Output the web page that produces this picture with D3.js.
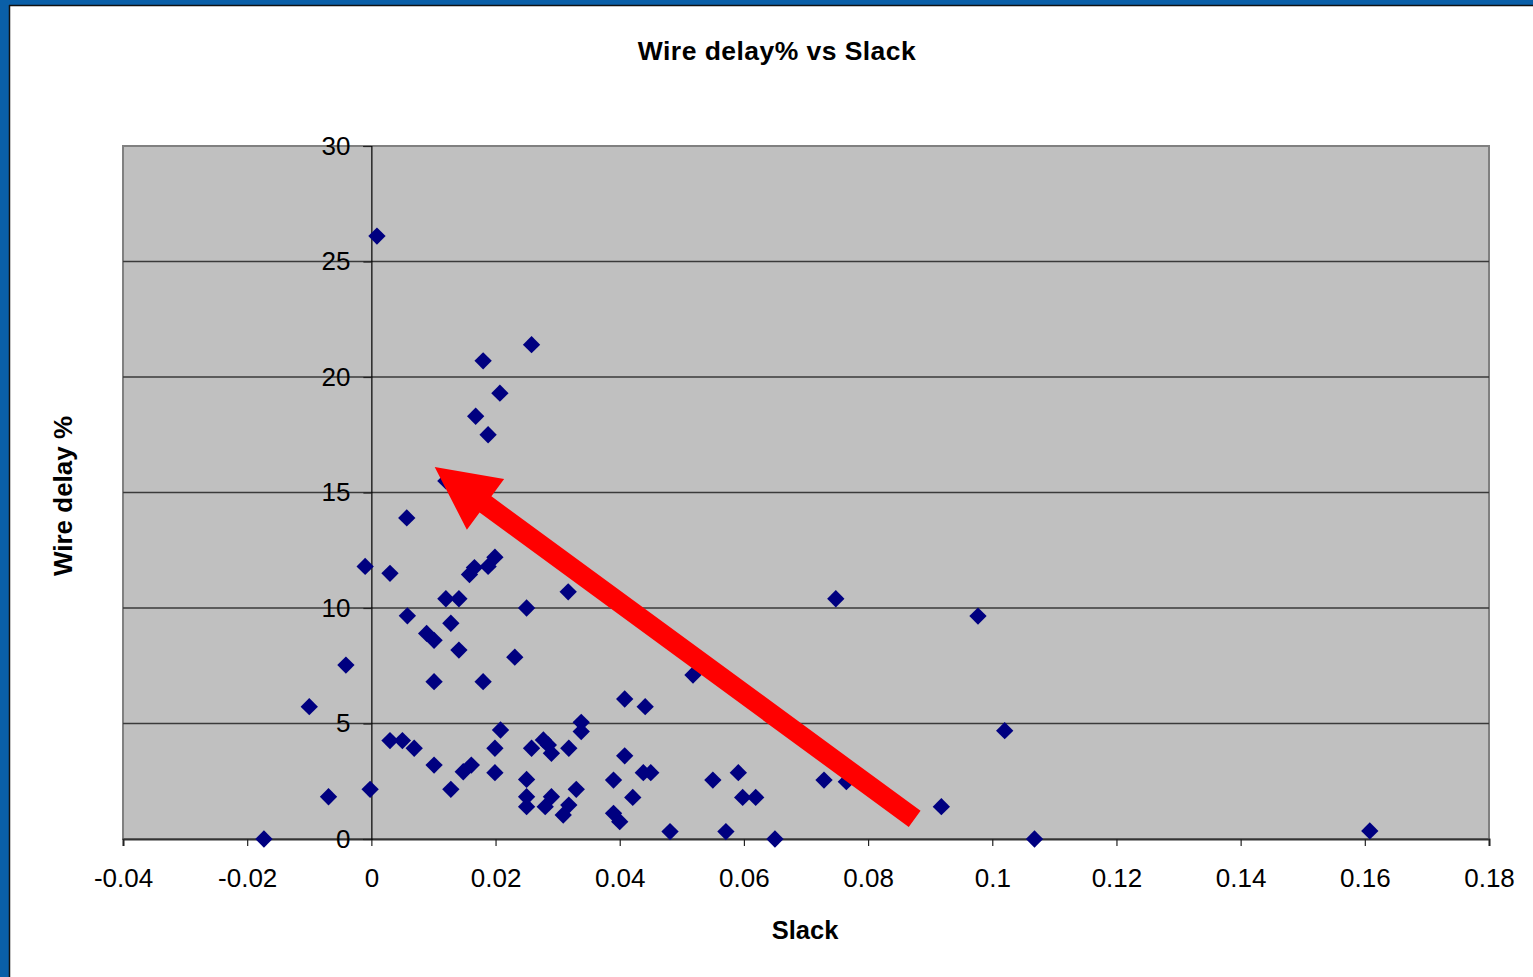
<!DOCTYPE html>
<html>
<head>
<meta charset="utf-8">
<script src="https://cdn.jsdelivr.net/npm/d3@7"></script>
<style>
  html, body { margin: 0; padding: 0; background: #ffffff; }
  svg { display: block; font-family: "Liberation Sans", Arial, sans-serif; }
</style>
</head>
<body>
<svg id="chart" width="1533" height="977"></svg>
<script>
// ---- data ----
const slack = [
  -0.0173, 0.0009, 0.0258, 0.018, 0.0207, 0.0168, 0.0188, 0.012, 0.0057, -0.001,
  0.003, 0.0199, 0.0188, 0.0166, 0.0158, 0.0317, 0.025, 0.012, 0.0141, 0.0058,
  0.0128, 0.0089, 0.0101, 0.0141, 0.0231, -0.0041, 0.0101, 0.018, -0.01, 0.0338,
  0.0338, 0.0208, 0.003, 0.005, 0.0069, 0.0199, 0.0258, 0.0277, 0.0285, 0.029,
  0.0318, 0.0101, 0.0161, 0.0148, 0.0199, 0.025, 0.0128, -0.0002, 0.033, -0.0069,
  0.025, 0.029, 0.025, 0.028, 0.0318, 0.0309, 0.0518, 0.0408, 0.0441, 0.0408,
  0.0438, 0.045, 0.039, 0.0421, 0.039, 0.040, 0.0481, 0.0571, 0.065, 0.055,
  0.0591, 0.0598, 0.0619, 0.0729, 0.0765, 0.0918, 0.102, 0.0977, 0.1068, 0.0748,
  0.1608
];
const wireDelay = [
  0, 26.1, 21.4, 20.7, 19.3, 18.3, 17.5, 15.5, 13.9, 11.8,
  11.5, 12.2, 11.8, 11.75, 11.45, 10.7, 10.0, 10.4, 10.4, 9.66,
  9.34, 8.9, 8.6, 8.18, 7.87, 7.53, 6.81, 6.81, 5.73, 5.05,
  4.65, 4.72, 4.26, 4.26, 3.93, 3.93, 3.93, 4.29, 4.07, 3.71,
  3.93, 3.2, 3.2, 2.91, 2.87, 2.58, 2.15, 2.15, 2.15, 1.83,
  1.83, 1.83, 1.4, 1.4, 1.47, 1.04, 7.1, 6.06, 5.73, 3.6,
  2.87, 2.87, 2.55, 1.8, 1.11, 0.75, 0.32, 0.32, 0, 2.55,
  2.87, 1.8, 1.8, 2.55, 2.48, 1.4, 4.69, 9.65, 0, 10.4,
  0.35
];
const xTickValues = [-0.04, -0.02, 0, 0.02, 0.04, 0.06, 0.08, 0.1, 0.12, 0.14, 0.16, 0.18];
const xTickLabels = ["-0.04", "-0.02", "0", "0.02", "0.04", "0.06", "0.08", "0.1", "0.12", "0.14", "0.16", "0.18"];
const yTickValues = [0, 5, 10, 15, 20, 25, 30];
const yTickLabels = ["0", "5", "10", "15", "20", "25", "30"];
const titleText = "Wire delay% vs Slack";
const xTitle = "Slack";
const yTitle = "Wire delay %";
// annotation arrow (data coordinates): from tail to tip
const arrowFrom = [0.0875, 0.87];
const arrowTo = [0.0102, 16.1];

// ---- layout ----
const W = 1533, H = 977;
const plot = { left: 123, right: 1489, top: 146, bottom: 839 };
const svg = d3.select("#chart");

const x = d3.scaleLinear().domain([-0.04, 0.18]).range([plot.left, plot.right]);
const y = d3.scaleLinear().domain([0, 30]).range([plot.bottom, plot.top]);

// slide frame (blue top/left band)
svg.append("rect").attr("x", 0).attr("y", 0).attr("width", W).attr("height", H).attr("fill", "#ffffff");
svg.append("rect").attr("x", 0).attr("y", 0).attr("width", W).attr("height", 5).attr("fill", "#0a5fa8");
svg.append("rect").attr("x", 0).attr("y", 0).attr("width", 9).attr("height", H).attr("fill", "#0a5fa8");
svg.append("line").attr("x1", 9).attr("x2", W).attr("y1", 5.5).attr("y2", 5.5).attr("stroke", "#111").attr("stroke-width", 1.5);
svg.append("line").attr("x1", 9.5).attr("x2", 9.5).attr("y1", 5).attr("y2", H).attr("stroke", "#111").attr("stroke-width", 1.5);

// plot area
svg.append("rect")
  .attr("x", plot.left).attr("y", plot.top)
  .attr("width", plot.right - plot.left).attr("height", plot.bottom - plot.top)
  .attr("fill", "#c0c0c0").attr("stroke", "#808080").attr("stroke-width", 2);

// gridlines
svg.append("g").selectAll("line")
  .data(yTickValues.filter(v => v > 0 && v < 30))
  .join("line")
  .attr("x1", plot.left).attr("x2", plot.right)
  .attr("y1", d => y(d)).attr("y2", d => y(d))
  .attr("stroke", "#3a3a3a").attr("stroke-width", 1.5);

// x axis (bottom)
const xAxis = d3.axisBottom(x)
  .tickValues(xTickValues)
  .tickFormat((d, i) => xTickLabels[i])
  .tickSize(7).tickPadding(23);
const gx = svg.append("g").attr("transform", `translate(0,${plot.bottom})`).call(xAxis);
gx.select(".domain").attr("stroke", "#333").attr("stroke-width", 2);
gx.selectAll(".tick line").attr("stroke", "#222").attr("stroke-width", 1.2);
gx.selectAll(".tick text").attr("font-size", 26).attr("fill", "#000")
  .attr("font-family", "'Liberation Sans', Arial, sans-serif");

// y axis (at x = 0)
const yAxis = d3.axisLeft(y)
  .tickValues(yTickValues)
  .tickFormat((d, i) => yTickLabels[i])
  .tickSize(8).tickPadding(13);
const gy = svg.append("g").attr("transform", `translate(${x(0)},0)`).call(yAxis);
gy.select(".domain").attr("stroke", "#000").attr("stroke-width", 1.2);
gy.selectAll(".tick line").attr("stroke", "#222").attr("stroke-width", 1.2);
gy.selectAll(".tick text").attr("font-size", 26).attr("fill", "#000")
  .attr("font-family", "'Liberation Sans', Arial, sans-serif");

// points
const pts = slack.map((s, i) => ({ s, w: wireDelay[i] }));
svg.append("g").selectAll("path")
  .data(pts)
  .join("path")
  .attr("d", d3.symbol().type(d3.symbolSquare).size(150))
  .attr("transform", d => `translate(${x(d.s)},${y(d.w)}) rotate(45)`)
  .attr("fill", "#000080");

// annotation arrow
(function drawArrow() {
  const x0 = x(arrowFrom[0]), y0 = y(arrowFrom[1]);
  const x1 = x(arrowTo[0]), y1 = y(arrowTo[1]);
  const dx = x1 - x0, dy = y1 - y0, L = Math.hypot(dx, dy);
  const ux = dx / L, uy = dy / L, px = -uy, py = ux;
  const sw = 10, hw = 31.5, hl = 63;
  const bx = x1 - ux * hl, by = y1 - uy * hl;
  const poly = [
    [x0 + px * sw, y0 + py * sw],
    [bx + px * sw, by + py * sw],
    [bx + px * hw, by + py * hw],
    [x1, y1],
    [bx - px * hw, by - py * hw],
    [bx - px * sw, by - py * sw],
    [x0 - px * sw, y0 - py * sw]
  ];
  svg.append("polygon")
    .attr("points", poly.map(p => p.join(",")).join(" "))
    .attr("fill", "#ff0000");
})();

// titles
svg.append("text").attr("x", 777).attr("y", 60).attr("text-anchor", "middle")
  .attr("font-size", 26.5).attr("font-weight", "bold").attr("letter-spacing", 0.45).text(titleText);
svg.append("text").attr("x", 805).attr("y", 939).attr("text-anchor", "middle")
  .attr("font-size", 25.5).attr("font-weight", "bold").text(xTitle);
svg.append("text").attr("transform", "translate(72,496) rotate(-90)").attr("text-anchor", "middle")
  .attr("font-size", 26).attr("font-weight", "bold").text(yTitle);
</script>
</body>
</html>
